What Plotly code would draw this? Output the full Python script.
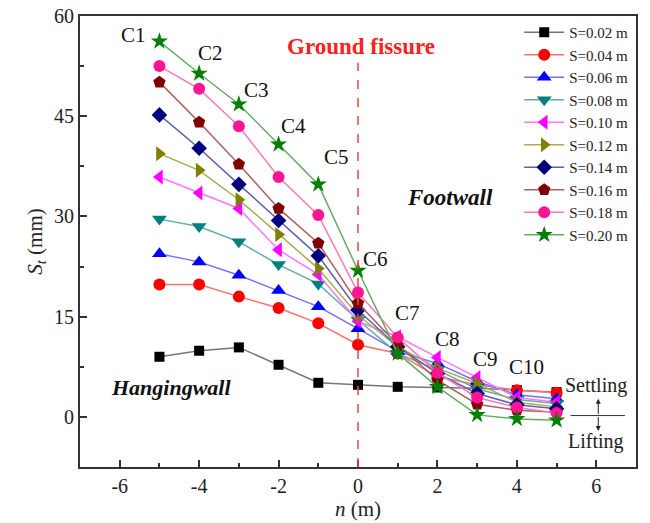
import plotly.graph_objects as go

x = [-5, -4, -3, -2, -1, 0, 1, 2, 3, 4, 5]
labels = ["S=0.02 m", "S=0.04 m", "S=0.06 m", "S=0.08 m", "S=0.10 m",
          "S=0.12 m", "S=0.14 m", "S=0.16 m", "S=0.18 m", "S=0.20 m"]
s002 = [9.0, 9.9, 10.4, 7.8, 5.1, 4.8, 4.5, 4.4, 4.3, 4.0, 3.7]
s004 = [19.8, 19.8, 18.0, 16.3, 14.0, 10.8, 9.5, 6.0, 4.8, 4.0, 3.6]
s006 = [24.4, 23.2, 21.2, 18.9, 16.5, 13.2, 9.8, 8.0, 5.3, 3.3, 2.7]
s008 = [29.6, 28.5, 26.2, 22.8, 19.9, 14.5, 9.5, 7.0, 4.2, 2.6, 2.0]
s010 = [35.9, 33.5, 31.2, 25.0, 21.3, 14.3, 12.0, 8.9, 5.9, 2.9, 2.2]
s012 = [39.4, 36.9, 32.5, 27.3, 22.2, 15.2, 10.5, 7.3, 5.0, 2.2, 1.5]
s014 = [45.2, 40.2, 34.8, 29.4, 24.1, 16.0, 10.5, 6.5, 3.5, 1.8, 1.2]
s016 = [50.1, 44.1, 37.8, 31.2, 26.0, 17.0, 10.8, 5.5, 1.9, 1.0, 0.7]
s018 = [52.5, 49.1, 43.5, 35.9, 30.2, 18.6, 11.9, 6.6, 2.9, 1.4, 0.6]
s020 = [56.2, 51.4, 46.8, 40.8, 34.8, 21.9, 9.5, 4.5, 0.3, -0.3, -0.5]
series = [s002, s004, s006, s008, s010, s012, s014, s016, s018, s020]

x_ticks = [-6, -4, -2, 0, 2, 4, 6]
x_ticklabels = ["-6", "-4", "-2", "0", "2", "4", "6"]
y_ticks = [0, 15, 30, 45, 60]
y_ticklabels = ["0", "15", "30", "45", "60"]

marker_colors = ["#000000", "#FF0000", "#0000FF", "#008080", "#FF00FF",
                 "#808000", "#000080", "#800000", "#FF1493", "#008000"]
line_colors = ["#777777", "#FF7070", "#7070FF", "#66AAAA", "#FF77FF",
               "#AAAA55", "#6060AA", "#AA6060", "#FF77BB", "#66AA66"]
symbols = ["square", "circle", "triangle-up", "triangle-down", "triangle-left",
           "triangle-right", "diamond", "pentagon", "circle", "star"]
msizes = [10, 12, 13, 13, 13, 13, 12, 13, 12, 13]

c_labels = ["C1", "C2", "C3", "C4", "C5", "C6", "C7", "C8", "C9", "C10"]
c_x = [-5.65, -3.72, -2.55, -1.63, -0.53, 0.45, 1.25, 2.25, 3.2, 4.25]
c_y = [57.2, 54.5, 49.0, 43.5, 38.9, 23.7, 15.6, 11.7, 8.7, 7.5]

FONT = "Liberation Serif"
fig = go.Figure()

for lab, ys, mc, lc, sym, ms in zip(labels, series, marker_colors, line_colors, symbols, msizes):
    fig.add_trace(go.Scatter(
        x=x, y=ys, name=lab, mode="lines+markers",
        line=dict(color=lc, width=1.5),
        marker=dict(symbol=sym, color=mc, size=ms, line=dict(width=0)),
    ))

# fissure dashed line
fig.add_shape(type="line", x0=0, x1=0, y0=-7.5, y1=53, xref="x", yref="y",
              line=dict(color="#FF4040", width=1.5, dash="dash"))

# settling/lifting indicator
fig.add_shape(type="line", x0=5.35, x1=6.72, y0=0.2, y1=0.2, xref="x", yref="y",
              line=dict(color="#333333", width=1))
fig.add_annotation(x=6.05, y=2.7, ax=6.05, ay=0.2, xref="x", yref="y", axref="x", ayref="y",
                   text="", showarrow=True, arrowhead=2, arrowsize=1, arrowwidth=1, arrowcolor="#222")
fig.add_annotation(x=6.05, y=-2.1, ax=6.05, ay=0.2, xref="x", yref="y", axref="x", ayref="y",
                   text="", showarrow=True, arrowhead=2, arrowsize=1, arrowwidth=1, arrowcolor="#222")
fig.add_annotation(x=6.0, y=4.65, text="Settling", showarrow=False,
                   font=dict(family=FONT, size=20, color="#222"))
fig.add_annotation(x=6.0, y=-3.75, text="Lifting", showarrow=False,
                   font=dict(family=FONT, size=20, color="#222"))

for t, cx, cy in zip(c_labels, c_x, c_y):
    fig.add_annotation(x=cx, y=cy, text=t, showarrow=False,
                       font=dict(family=FONT, size=21, color="#111"))

fig.add_annotation(x=0.08, y=55.4, text="<b>Ground fissure</b>", showarrow=False,
                   font=dict(family=FONT, size=23, color="#FF2020"))
fig.add_annotation(x=2.31, y=32.9, text="<b><i>Footwall</i></b>", showarrow=False,
                   font=dict(family=FONT, size=23, color="#111"))
fig.add_annotation(x=-4.7, y=4.4, text="<b><i>Hangingwall</i></b>", showarrow=False,
                   font=dict(family=FONT, size=22, color="#111"))

axis_common = dict(
    showline=True, linecolor="#333333", linewidth=2, mirror=True,
    ticks="inside", ticklen=7, tickwidth=1.5, tickcolor="#333333",
    showgrid=False, zeroline=False, automargin=False,
    tickfont=dict(family=FONT, size=20, color="#222"),
)

fig.update_layout(
    width=650, height=523,
    margin=dict(l=80, r=14, t=16, b=56),
    plot_bgcolor="white", paper_bgcolor="white",
    xaxis=dict(range=[-7, 7], tickmode="array", tickvals=x_ticks, ticktext=x_ticklabels,
               minor=dict(tickvals=[-5, -3, -1, 1, 3, 5], ticks="inside", ticklen=4, tickcolor="#333333"),
               title=dict(text="<i>n</i> (m)", font=dict(family=FONT, size=21, color="#222"), standoff=2),
               **axis_common),
    yaxis=dict(range=[-7.5, 60], tickmode="array", tickvals=y_ticks, ticktext=y_ticklabels,
               minor=dict(tickvals=[-7.5, 7.5, 22.5, 37.5, 52.5], ticks="inside", ticklen=4, tickcolor="#333333"),
               title=dict(text="<i>S</i><sub><i>t</i></sub> (mm)", font=dict(family=FONT, size=21, color="#222"), standoff=6),
               **axis_common),
    legend=dict(x=0.995, y=1.0, xanchor="right", yanchor="top",
                font=dict(family=FONT, size=15, color="#222"),
                bgcolor="rgba(255,255,255,0)", tracegroupgap=0, itemwidth=40),
    showlegend=True,
)

fig.write_html("out.html")
